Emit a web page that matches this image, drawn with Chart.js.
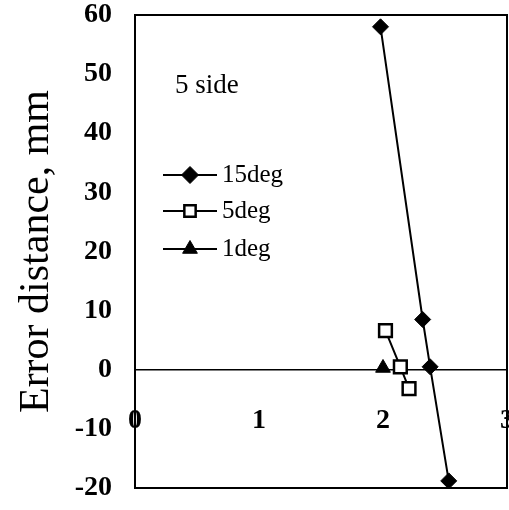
<!DOCTYPE html>
<html>
<head>
<meta charset="utf-8">
<script src="https://cdn.jsdelivr.net/npm/chart.js@4/dist/chart.umd.min.js"></script>
<style>
    html, body { margin: 0; padding: 0; background: #fff; }
    #chart { display: block; }
</style>
</head>
<body>
<canvas id="chart" width="509" height="510"></canvas>
<script>
// Data
const seriesNames = ['15deg', '5deg', '1deg'];
const x15 = [1.98, 2.32, 2.38, 2.53];
const y15 = [58, 8.5, 0.5, -18.8];
const x5 = [2.02, 2.14, 2.21];
const y5 = [6.6, 0.5, -3.2];
const x1 = [2.0];
const y1 = [0.3];
const xTickLabels = [0, 1, 2, 3];
const yMin = -20;
const yMax = 60;
const panelNote = '5 side';
const yTitle = 'Error distance, mm';

const serif = "'Liberation Serif', 'Times New Roman', serif";

function toPoints(xs, ys) {
    return xs.map((x, i) => ({ x: x, y: ys[i] }));
}

// Frame, note, x labels and legend drawn on top of the chart area
const extras = {
    id: 'extras',
    afterDatasetsDraw(chart) {
        const ctx = chart.ctx;
        const area = chart.chartArea;
        const xs = chart.scales.x;
        const ys = chart.scales.y;

        ctx.save();
        ctx.strokeStyle = '#000';
        ctx.lineWidth = 2;
        ctx.strokeRect(area.left, area.top, area.right - area.left, area.bottom - area.top);

        ctx.fillStyle = '#000';
        ctx.font = '27px ' + serif;
        ctx.textAlign = 'left';
        ctx.textBaseline = 'middle';
        ctx.fillText(panelNote, area.left + 40, ys.getPixelForValue(48));

        // x tick labels sit below the zero line, inside the frame
        ctx.font = 'bold 28px ' + serif;
        ctx.textAlign = 'center';
        const labelY = ys.getPixelForValue(0) + 51;
        xTickLabels.forEach(v => {
            ctx.fillText(String(v), xs.getPixelForValue(v), labelY);
        });

        // legend
        const rowY = [175, 211, 249];
        const legendRadius = [8.5, 8, 8.5];
        chart.data.datasets.forEach((ds, i) => {
            const y = rowY[i];
            ctx.strokeStyle = '#000';
            ctx.lineWidth = 2;
            ctx.beginPath();
            ctx.moveTo(163, y);
            ctx.lineTo(217, y);
            ctx.stroke();
            ctx.fillStyle = ds.pointBackgroundColor;
            ctx.strokeStyle = '#000';
            ctx.lineWidth = ds.pointBorderWidth;
            Chart.helpers.drawPoint(ctx, {
                pointStyle: ds.pointStyle,
                radius: legendRadius[i],
                rotation: 0,
                borderWidth: ds.pointBorderWidth
            }, 190, y);
            ctx.fillStyle = '#000';
            ctx.font = '25px ' + serif;
            ctx.textAlign = 'left';
            ctx.textBaseline = 'middle';
            ctx.fillText(seriesNames[i], 222, y);
        });
        ctx.restore();
    }
};

new Chart(document.getElementById('chart'), {
    type: 'scatter',
    data: {
        datasets: [{
            label: seriesNames[0],
            data: toPoints(x15, y15),
            showLine: true,
            borderColor: '#000',
            borderWidth: 2,
            pointStyle: 'rectRot',
            pointRadius: 8,
            pointBackgroundColor: '#000',
            pointBorderColor: '#000',
            pointBorderWidth: 1
        }, {
            label: seriesNames[1],
            data: toPoints(x5, y5),
            showLine: true,
            borderColor: '#000',
            borderWidth: 2,
            pointStyle: 'rect',
            pointRadius: 9,
            pointBackgroundColor: '#fff',
            pointBorderColor: '#000',
            pointBorderWidth: 2.5
        }, {
            label: seriesNames[2],
            data: toPoints(x1, y1),
            showLine: true,
            borderColor: '#000',
            borderWidth: 2,
            pointStyle: 'triangle',
            pointRadius: 8.5,
            pointBackgroundColor: '#000',
            pointBorderColor: '#000',
            pointBorderWidth: 1
        }]
    },
    options: {
        responsive: false,
        animation: false,
        layout: {
            autoPadding: false,
            padding: { left: 0, top: 15, right: 2, bottom: 22 }
        },
        plugins: {
            legend: { display: false },
            tooltip: { enabled: false }
        },
        scales: {
            x: {
                type: 'linear',
                min: 0,
                max: 3,
                display: false
            },
            y: {
                min: yMin,
                max: yMax,
                afterFit(scale) {
                    scale.width = 135;
                    scale.paddingTop = 0;
                    scale.paddingBottom = 0;
                },
                border: { display: false },
                grid: {
                    drawTicks: false,
                    color: ctx => (ctx.tick && ctx.tick.value === 0) ? '#000' : 'rgba(0,0,0,0)',
                    lineWidth: 1.5
                },
                ticks: {
                    stepSize: 10,
                    padding: 23,
                    color: '#000',
                    font: { family: serif, size: 28, weight: 'bold' }
                },
                title: {
                    display: true,
                    text: yTitle,
                    color: '#000',
                    padding: { top: 12, bottom: 0 },
                    font: { family: serif, size: 42 }
                }
            }
        }
    },
    plugins: [extras]
});
</script>
</body>
</html>
